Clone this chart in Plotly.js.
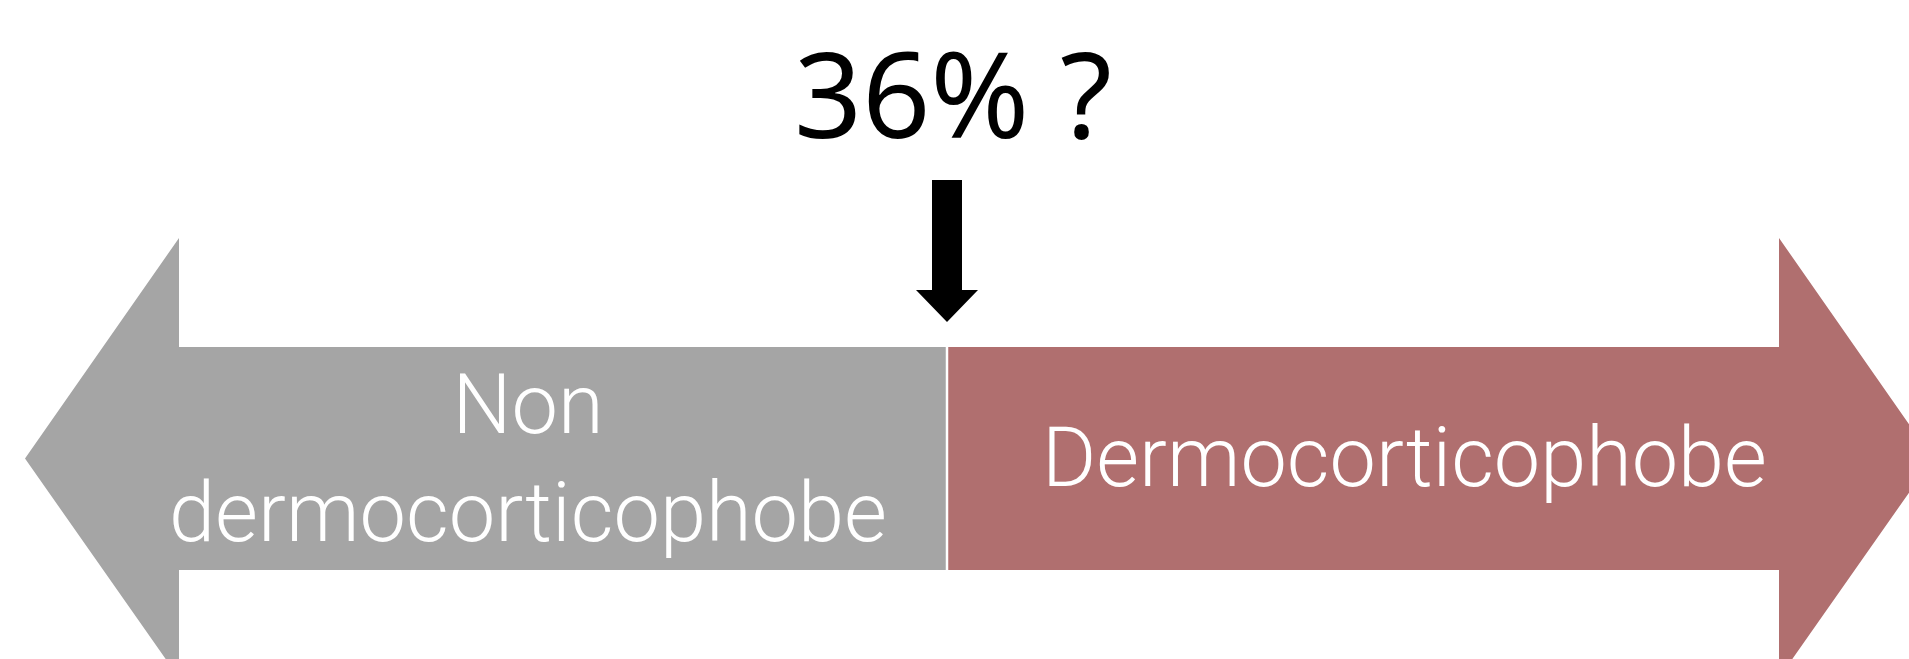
<!DOCTYPE html>
<html>
<head>
<meta charset="utf-8">
<script src="https://cdn.plot.ly/plotly-3.0.1.min.js"></script>
<style>
  html, body { margin: 0; padding: 0; background: #ffffff; }
  #chart { width: 1909px; height: 659px; }
  #chart text { font-variant-ligatures: none; font-feature-settings: "liga" 0, "clig" 0; }
</style>
</head>
<body>
<div id="chart"></div>
<script>
// ---------- data ----------
const categories = ["Non dermocorticophobe", "Dermocorticophobe"];
const segmentStart = [0, 48];      // position on the 0-100 scale
const segmentLength = [48, 52];
const pointerPosition = 48;        // where the "36% ?" arrow points
const pointerLabel = "36% ?";

// ---------- style ----------
const colors = ["#A5A5A5", "#B06F6F"];
const W = 1909, H = 659;
const shaftLeftPx = 179, shaftRightPx = 1779, shaftTopPx = 347, shaftBottomPx = 570;
const pxPerX = (shaftRightPx - shaftLeftPx) / 100;
const midYpx = (shaftTopPx + shaftBottomPx) / 2;
const pxPerY = (shaftBottomPx - shaftTopPx) / 2;
const xOf = p => (p - shaftLeftPx) / pxPerX;
const yOf = p => (midYpx - p) / pxPerY;

const headTopY = yOf(238), headBotY = yOf(678);
const leftTipX = xOf(25), rightTipX = xOf(1933);

function textWidth(text, size, family, weight) {
  const ctx = document.createElement('canvas').getContext('2d');
  ctx.font = weight + ' ' + size + 'px ' + family;
  return ctx.measureText(text).width;
}
function fitSize(text, family, weight, target) {
  return 100 * target / textWidth(text, 100, family, weight);
}

const labelFamily = 'Roboto';
const labelWeight = 300;
const pointerFamily = '"Noto Sans"';
const wrapped = categories[0].replace(' ', '<br>');
const labelSize = fitSize('dermocorticophobe', labelFamily, labelWeight, 718);
const labelSize2 = fitSize(categories[1], labelFamily, labelWeight, 725);
const pointerSize = fitSize(pointerLabel, pointerFamily, 400, 318);

const trace = {
  type: 'bar',
  orientation: 'h',
  y: [0, 0],
  x: segmentLength,
  base: segmentStart,
  width: 2,
  marker: { color: colors, line: { width: 0 } },
  hoverinfo: 'skip',
  showlegend: false
};

function headPath(baseX, tipX, dir) {
  const o = 0.3 * dir;
  return `M${baseX},${headTopY} L${tipX},0 L${baseX},${headBotY} L${baseX},-1 L${baseX + o},-1 L${baseX + o},1 L${baseX},1 Z`;
}

const shaftHalf = 15 / pxPerX, headHalf = 31 / pxPerX;
const arrowTop = yOf(180), arrowNeck = yOf(290), arrowTip = yOf(322);
const px = pointerPosition;
const downArrow = `M${px - shaftHalf},${arrowTop} L${px + shaftHalf},${arrowTop} L${px + shaftHalf},${arrowNeck} ` +
  `L${px + headHalf},${arrowNeck} L${px},${arrowTip} L${px - headHalf},${arrowNeck} L${px - shaftHalf},${arrowNeck} Z`;

const layout = {
  width: W, height: H,
  margin: { l: 0, r: 0, t: 0, b: 0 },
  paper_bgcolor: '#ffffff',
  plot_bgcolor: '#ffffff',
  barmode: 'overlay',
  xaxis: { range: [xOf(0), xOf(W)], visible: false, fixedrange: true },
  yaxis: { range: [yOf(H), yOf(0)], visible: false, fixedrange: true },
  shapes: [
    { type: 'path', path: headPath(0, leftTipX, 1), fillcolor: colors[0], line: { width: 0 }, layer: 'below' },
    { type: 'path', path: headPath(100, rightTipX, -1), fillcolor: colors[1], line: { width: 0 }, layer: 'below' },
    { type: 'line', x0: segmentStart[1], x1: segmentStart[1], y0: -1, y1: 1, line: { color: '#ffffff', width: 2.5 }, layer: 'above' },
    { type: 'path', path: downArrow, fillcolor: '#000000', line: { width: 0 } }
  ],
  annotations: [
    { x: xOf(953), y: yOf(92), xref: 'x', yref: 'y', text: pointerLabel, showarrow: false,
      xanchor: 'center', yanchor: 'middle',
      font: { family: pointerFamily, size: pointerSize, color: '#000000', weight: 400 } },
    { x: xOf(528), y: yOf(458), xref: 'x', yref: 'y', text: wrapped, showarrow: false,
      xanchor: 'center', yanchor: 'middle',
      font: { family: labelFamily, size: labelSize, color: '#ffffff', weight: labelWeight } },
    { x: xOf(1404), y: yOf(457), xref: 'x', yref: 'y', text: categories[1], showarrow: false,
      xanchor: 'center', yanchor: 'middle',
      font: { family: labelFamily, size: labelSize2, color: '#ffffff', weight: labelWeight } }
  ]
};

Plotly.newPlot('chart', [trace], layout, { displayModeBar: false, staticPlot: true });
</script>
</body>
</html>
